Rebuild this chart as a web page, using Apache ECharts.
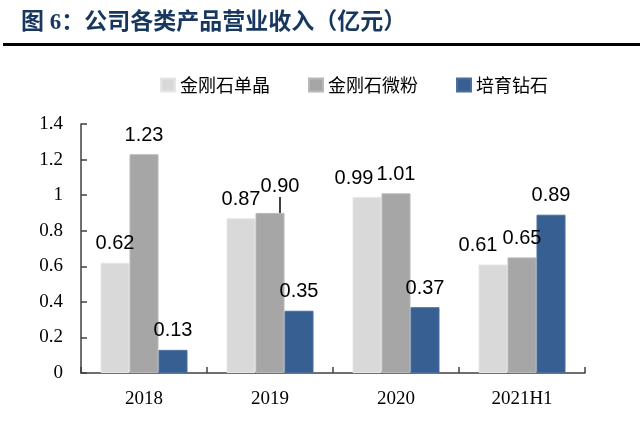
<!DOCTYPE html>
<html>
<head>
<meta charset="utf-8">
<script src="https://cdn.jsdelivr.net/npm/echarts@6/dist/echarts.min.js"></script>
<style>html,body{margin:0;padding:0;background:#fff}#c{width:640px;height:435px}</style>
</head>
<body>
<div id="c"></div>
<script>
var categories = ['2018', '2019', '2020', '2021H1'];
var seriesNames = ['金刚石单晶', '金刚石微粉', '培育钻石'];
var singleCrystal = [0.62, 0.87, 0.99, 0.61];
var micropowder = [1.23, 0.90, 1.01, 0.65];
var labGrown = [0.13, 0.35, 0.37, 0.89];
var yTicks = [0, 0.2, 0.4, 0.6, 0.8, 1, 1.2, 1.4];
var colors = ['#d9d9d9', '#a6a6a6', '#375f91'];
var borderColors = ['#e6e6e6', '#b8b8b8', '#4a6f9c'];

// label nudges [seriesIndex-dataIndex] = [dx, dy]
var labelNudge = {
  '1-1': [10, -7],
  '0-2': [-13, 1],
  '0-3': [-15, 0]
};

var allValues = [singleCrystal, micropowder, labGrown];

var chart = echarts.init(document.getElementById('c'), null, {renderer: 'canvas'});
var series = allValues.map(function (vals, si) {
  return {
    name: seriesNames[si],
    type: 'bar',
    barWidth: 29,
    barGap: '0%',
    itemStyle: {color: colors[si], borderColor: borderColors[si], borderWidth: 1},
    label: {
      show: true, position: 'top', distance: 9,
      color: '#000', fontSize: 20, fontFamily: 'Liberation Sans, Arial',
      formatter: function (p) { return p.value.toFixed(2); }
    },
    labelLine: {show: false},
    data: vals.map(function (v, di) {
      var d = {value: v};
      if (si === 1 && di === 1) {
        d.labelLine = {show: true, lineStyle: {color: '#000', width: 1.5}};
      }
      return d;
    }),
    labelLayout: function (params) {
      var n = labelNudge[si + '-' + params.dataIndex];
      if (n) return {dx: n[0], dy: n[1]};
      return {};
    }
  };
});

chart.setOption({
  animation: false,
  backgroundColor: '#fff',
  title: {
    text: '图 6：公司各类产品营业收入（亿元）',
    left: 16, top: 7,
    textStyle: {color: '#17375e', fontSize: 23, fontWeight: 'bold', fontFamily: 'Liberation Serif, Noto Sans CJK SC'}
  },
  graphic: [
    {type: 'rect', left: 3, top: 43, shape: {width: 637, height: 3}, style: {fill: '#000'}}
  ],
  legend: {
    data: seriesNames,
    left: 155, top: 71,
    itemWidth: 14, itemHeight: 13, itemGap: 38,
    icon: 'rect',
    textStyle: {color: '#000', fontSize: 18, fontFamily: 'Noto Sans CJK SC'}
  },
  grid: {left: 81, right: 55, top: 124, bottom: 62},
  xAxis: {
    type: 'category',
    data: categories,
    axisLine: {lineStyle: {color: '#404040', width: 1.5}},
    axisTick: {show: true, inside: true, length: 6, lineStyle: {color: '#404040', width: 1.5}},
    axisLabel: {color: '#000', fontSize: 19, fontFamily: 'Liberation Serif, Times New Roman', margin: 17}
  },
  yAxis: {
    type: 'value',
    min: yTicks[0], max: yTicks[yTicks.length - 1], interval: 0.2,
    splitLine: {show: false},
    axisLine: {show: true, lineStyle: {color: '#404040', width: 1.5}},
    axisTick: {show: true, inside: true, length: 6, lineStyle: {color: '#404040', width: 1.5}},
    axisLabel: {color: '#000', fontSize: 19, fontFamily: 'Liberation Serif, Times New Roman', margin: 18,
      formatter: function (v) { return String(Math.round(v * 10) / 10); }}
  },
  series: series
});
</script>
</body>
</html>
